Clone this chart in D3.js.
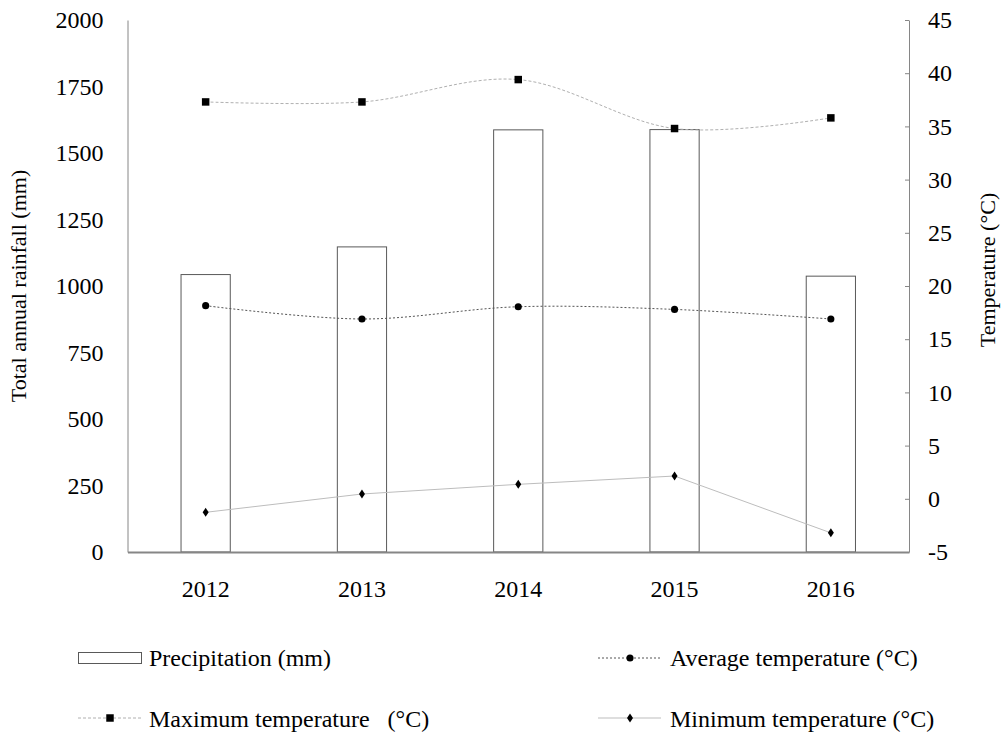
<!DOCTYPE html>
<style>
    body { margin: 0; background: #fff; }
    svg text { font-family: "Liberation Serif", "Times New Roman", "DejaVu Serif", serif !important; fill: #000; }
    .axis path, .axis line { stroke: #868686; }
</style>
<svg width="1004" height="733"></svg>
<script src="https://d3js.org/d3.v7.min.js"></script>
<script>

    var years = ["2012", "2013", "2014", "2015", "2016"];
    var rainfall = [1043, 1147, 1587, 1588, 1037];
    var tMax = [37.3, 37.3, 39.4, 34.8, 35.8];
    var tAvg = [18.15, 16.9, 18.05, 17.8, 16.9];
    var tMin = [-1.27, 0.45, 1.36, 2.14, -3.2];
    var rainTicks = [0, 250, 500, 750, 1000, 1250, 1500, 1750, 2000];
    var tempTicks = [-5, 0, 5, 10, 15, 20, 25, 30, 35, 40, 45];

    var serif = '"Liberation Serif", "Times New Roman", "DejaVu Serif", serif';

    var svg = d3.select("svg"),
        margin = {top: 20, right: 95, bottom: 181, left: 127.5},
        width = +svg.attr("width") - margin.left - margin.right,
        height = +svg.attr("height") - margin.top - margin.bottom,
        g = svg.append("g").attr("transform", "translate(" + margin.left + "," + margin.top + ")");

    var x = d3.scaleBand()
        .domain(years)
        .range([0, width])
        .paddingInner(0.685)
        .paddingOuter(0.3425);

    var y = d3.scaleLinear().domain([0, 2000]).range([height, 0]);
    var y2 = d3.scaleLinear().domain([-5, 45]).range([height, 0]);

    var cx = function (d, i) { return x(years[i]) + x.bandwidth() / 2; };
    var plain = function (d) { return String(d); };

    // bars
    g.append("g")
        .selectAll("rect")
        .data(rainfall)
        .enter().append("rect")
        .attr("x", function (d, i) { return x(years[i]); })
        .attr("y", function (d) { return y(d); })
        .attr("width", x.bandwidth())
        .attr("height", function (d) { return height - y(d); })
        .attr("fill", "#fff")
        .attr("stroke", "#595959")
        .attr("stroke-width", 1);

    // axes
    g.append("g")
        .attr("class", "axis")
        .call(d3.axisLeft(y).tickValues(rainTicks).tickFormat(plain).tickSize(0).tickPadding(24));

    g.append("g")
        .attr("class", "axis")
        .attr("transform", "translate(" + width + ",0)")
        .call(d3.axisRight(y2).tickValues(tempTicks).tickFormat(plain).tickSizeInner(-4).tickSizeOuter(0).tickPadding(19));

    g.append("g")
        .attr("class", "axis axis--x")
        .attr("transform", "translate(0," + height + ")")
        .call(d3.axisBottom(x).tickSize(0).tickPadding(28))
        .call(function (a) { a.select(".domain").attr("stroke-width", 2); });

    g.selectAll(".axis").attr("font-family", serif).attr("font-size", 24);

    // temperature lines
    var smooth = d3.line().x(function (d, i) { return cx(d, i); }).y(function (d) { return y2(d); })
        .curve(d3.curveCatmullRom.alpha(0));
    var straight = d3.line().x(function (d, i) { return cx(d, i); }).y(function (d) { return y2(d); });

    g.append("path").datum(tMax).attr("d", smooth)
        .attr("fill", "none").attr("stroke", "#b0b0b0").attr("stroke-width", 1).attr("stroke-dasharray", "3,2");
    g.append("path").datum(tAvg).attr("d", smooth)
        .attr("fill", "none").attr("stroke", "#555").attr("stroke-width", 1).attr("stroke-dasharray", "2,2");
    g.append("path").datum(tMin).attr("d", straight)
        .attr("fill", "none").attr("stroke", "#bdbdbd").attr("stroke-width", 1);

    var sq = d3.symbol().type(d3.symbolSquare).size(56);
    var ci = d3.symbol().type(d3.symbolCircle).size(40);
    var di = "M0,-4.5L3,0L0,4.5L-3,0Z";

    g.append("g").selectAll("path").data(tMax).enter().append("path")
        .attr("d", sq).attr("fill", "#000")
        .attr("transform", function (d, i) { return "translate(" + cx(d, i) + "," + y2(d) + ")"; });
    g.append("g").selectAll("path").data(tAvg).enter().append("path")
        .attr("d", ci).attr("fill", "#000")
        .attr("transform", function (d, i) { return "translate(" + cx(d, i) + "," + y2(d) + ")"; });
    g.append("g").selectAll("path").data(tMin).enter().append("path")
        .attr("d", di).attr("fill", "#000")
        .attr("transform", function (d, i) { return "translate(" + cx(d, i) + "," + y2(d) + ")"; });

    // axis titles
    svg.append("text")
        .attr("transform", "translate(26,286) rotate(-90)")
        .attr("text-anchor", "middle")
        .style("font-size", "22px")
        .text("Total annual rainfall (mm)");
    svg.append("text")
        .attr("transform", "translate(995,270) rotate(-90)")
        .attr("text-anchor", "middle")
        .style("font-size", "22px")
        .text("Temperature (°C)");

    // legend
    var leg = svg.append("g");
    leg.append("rect").attr("x", 78.5).attr("y", 652.5).attr("width", 63).attr("height", 11)
        .attr("fill", "#fff").attr("stroke", "#595959");
    leg.append("text").attr("x", 149).attr("y", 666).style("font-size", "24px").text("Precipitation (mm)");

    leg.append("line").attr("x1", 78).attr("x2", 141).attr("y1", 718).attr("y2", 718)
        .attr("stroke", "#b0b0b0").attr("stroke-dasharray", "3,2");
    leg.append("path").attr("d", sq).attr("transform", "translate(110,718)").attr("fill", "#000");
    leg.append("text").attr("x", 149).attr("y", 727).style("font-size", "24px").style("white-space", "pre")
        .text("Maximum temperature   (°C)");

    leg.append("line").attr("x1", 598).attr("x2", 660).attr("y1", 658).attr("y2", 658)
        .attr("stroke", "#555").attr("stroke-dasharray", "2,2");
    leg.append("path").attr("d", ci).attr("transform", "translate(630,658)").attr("fill", "#000");
    leg.append("text").attr("x", 670).attr("y", 666).style("font-size", "24px").text("Average temperature (°C)");

    leg.append("line").attr("x1", 598).attr("x2", 661).attr("y1", 718).attr("y2", 718)
        .attr("stroke", "#bdbdbd");
    leg.append("path").attr("d", di).attr("transform", "translate(630,718)").attr("fill", "#000");
    leg.append("text").attr("x", 670).attr("y", 727).style("font-size", "24px").text("Minimum temperature (°C)");

    svg.selectAll("text").style("font-family", serif);

</script>
